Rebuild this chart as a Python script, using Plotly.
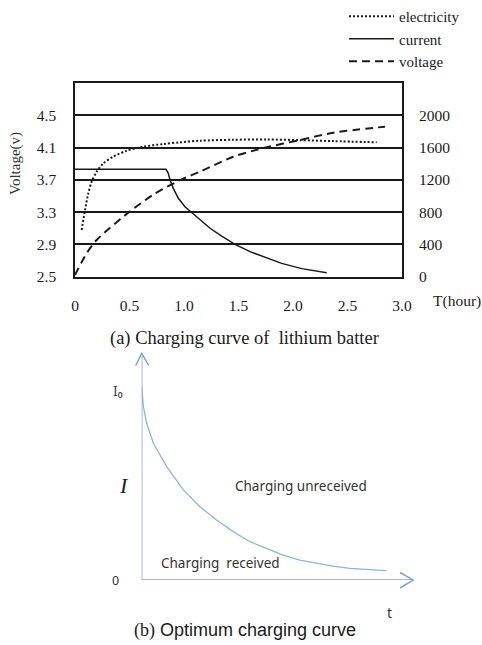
import plotly.graph_objects as go

W, H = 482, 645

# ---- (a) lithium battery charging curve ----
t_electricity = [0.061, 0.092, 0.122, 0.153, 0.199, 0.260, 0.351, 0.474, 0.627, 0.810, 0.963,
                 1.147, 1.452, 1.758, 2.064, 2.37, 2.768]
electricity_mAh = [579, 826, 1033, 1177, 1301, 1405, 1487, 1561, 1611, 1644, 1665,
                   1685, 1697, 1700, 1692, 1680, 1665]

t_current = [0.0, 0.835, 0.856, 0.872, 0.902, 0.948, 1.009, 1.071, 1.147, 1.239, 1.346,
             1.468, 1.606, 1.789, 1.896, 2.080, 2.309]
current_mA = [1331, 1331, 1281, 1198, 1095, 971, 867, 793, 703, 600, 504,
              401, 310, 216, 165, 100, 50]

t_voltage = [0.0, 0.107, 0.199, 0.505, 0.734, 0.97, 1.162, 1.452, 1.759, 2.064, 2.37, 2.844]
voltage_V = [2.52, 2.79, 2.955, 3.31, 3.53, 3.70, 3.81, 3.987, 4.103, 4.194, 4.284, 4.359]

volt_ticks = [2.5, 2.9, 3.3, 3.7, 4.1, 4.5]
right_ticks = [0, 400, 800, 1200, 1600, 2000]
hour_ticks = [0, 0.5, 1.0, 1.5, 2.0, 2.5, 3.0]
hour_labels = ["0", "0.5", "1.0", "1.5", "2.0", "2.5", "3.0"]

# ---- (b) optimum charging curve ----
t_opt = [0, 0.068, 0.204, 0.476, 1.02, 1.70, 2.38, 3.06, 3.74, 4.42, 5.10, 5.78, 6.46, 7.14, 7.82, 8.50, 9.18, 10.0]
i_opt = [1.0, 0.897, 0.810, 0.707, 0.586, 0.466, 0.379, 0.310, 0.250, 0.198, 0.164, 0.129, 0.103, 0.086, 0.072, 0.060, 0.053, 0.048]

SERIF = "Liberation Serif, Times New Roman, serif"
SANS = "Noto Sans, Liberation Sans, Arial, sans-serif"
INK = "#1a1a1a"
BLUE = "#7ea6d6"


def px(x):
    return x / W


def py(y):
    return 1 - y / H


fig = go.Figure()

fig.add_trace(go.Scatter(
    x=t_electricity, y=electricity_mAh, name="electricity", yaxis="y2",
    mode="lines", line=dict(color=INK, width=2, dash="2px,2px", shape="spline", smoothing=0.8),
    legendgroup="e"))
fig.add_trace(go.Scatter(
    x=t_current, y=current_mA, name="current", yaxis="y2",
    mode="lines", line=dict(color=INK, width=1.5),
    legendgroup="c"))
fig.add_trace(go.Scatter(
    x=t_voltage, y=voltage_V, name="voltage", yaxis="y",
    mode="lines", line=dict(color=INK, width=2, dash="8px,5px", shape="spline", smoothing=0.8),
    legendgroup="v"))

fig.add_trace(go.Scatter(
    x=t_opt, y=i_opt, xaxis="x3", yaxis="y3", mode="lines", showlegend=False,
    line=dict(color="#8fb3de", width=1.3)))

top_dom = [py(276.7), py(83)]
x_dom = [px(75), px(402)]

fig.update_layout(
    width=W, height=H, margin=dict(l=0, r=0, t=0, b=0, autoexpand=False),
    paper_bgcolor="white", plot_bgcolor="white",
    font=dict(family=SERIF, size=15, color=INK),
    xaxis=dict(domain=x_dom, range=[0, 3.0], tickvals=hour_ticks, ticktext=hour_labels,
               showgrid=False, zeroline=False, showline=True, mirror=True,
               linecolor=INK, linewidth=1.5, ticks="", ticklabelstandoff=14,
               tickfont=dict(family=SERIF, size=15.5, color=INK), anchor="y"),
    yaxis=dict(domain=top_dom, range=[2.5, 4.9], tickvals=volt_ticks,
               tickformat=".1f", showgrid=True, gridcolor=INK, gridwidth=1.5,
               zeroline=False, showline=True, mirror=True, linecolor=INK, linewidth=1.5,
               ticks="", ticklabelstandoff=14,
               tickfont=dict(family=SERIF, size=15.5, color=INK), anchor="x"),
    yaxis2=dict(overlaying="y", side="right", range=[0, 2400], tickvals=right_ticks,
                showgrid=False, zeroline=False, showline=False, ticks="",
                ticklabelstandoff=16, tickfont=dict(family=SERIF, size=15.5, color=INK),
                anchor="x"),
    xaxis3=dict(domain=[px(141.7), px(413.3)], range=[0, 11.1], visible=False, anchor="y3"),
    yaxis3=dict(domain=[py(580), py(353.3)], range=[0, 1.172], visible=False, anchor="x3"),
    legend=dict(x=px(344), y=1.0, xanchor="left", yanchor="top",
                bgcolor="rgba(0,0,0,0)", font=dict(family=SERIF, size=15, color=INK),
                itemwidth=45, tracegroupgap=2, traceorder="normal"),
    showlegend=True,
)

# axes of the optimum-charging sketch, with open arrowheads
ax_line = dict(color=BLUE, width=1.5)
fig.add_shape(type="line", xref="x3", yref="y3", x0=0, y0=0, x1=0, y1=1.172, line=ax_line)
fig.add_shape(type="line", xref="x3", yref="y3", x0=0, y0=0, x1=11.1, y1=0, line=ax_line)
fig.add_shape(type="path", xref="paper", yref="paper",
              path=f"M {px(135.7)} {py(365.5)} L {px(141.7)} {py(353.3)} L {px(148.7)} {py(365.5)}",
              line=ax_line)
fig.add_shape(type="path", xref="paper", yref="paper",
              path=f"M {px(400)} {py(572.5)} L {px(413.3)} {py(580)} L {px(400)} {py(588)}",
              line=ax_line)

annotations = [
    dict(x=px(15), y=py(164), text="Voltage(v)", textangle=-90,
         font=dict(family=SERIF, size=15, color="#333")),
    dict(x=px(457), y=py(301), text="T(hour)", font=dict(family=SERIF, size=15.5, color=INK)),
    dict(x=px(244), y=py(338), text="(a) Charging curve of  lithium batter",
         font=dict(family=SERIF, size=18.5, color=INK)),
    dict(x=px(118), y=py(390), text="I₀", font=dict(family=SANS, size=14, color="#444")),
    dict(x=px(115), y=py(580), text="0", font=dict(family=SANS, size=12.5, color="#333")),
    dict(x=px(124), y=py(485), text="<i>I</i>", font=dict(family=SERIF, size=22, color="#222")),
    dict(x=px(301), y=py(486), text="Charging unreceived", font=dict(family=SANS, size=13.5, color="#333")),
    dict(x=px(220), y=py(563), text="Charging  received", font=dict(family=SANS, size=13.5, color="#333")),
    dict(x=px(389), y=py(612), text="t", font=dict(family=SANS, size=14, color="#333")),
    dict(x=px(245), y=py(630),
         text="<span style='font-family:Liberation Serif'>(b)</span> Optimum charging curve",
         font=dict(family="Liberation Sans, Arial, sans-serif", size=18, color=INK)),
]
for a in annotations:
    a.update(xref="paper", yref="paper", showarrow=False, xanchor="center", yanchor="middle")
    fig.add_annotation(**a)

fig.write_html("out.html")
